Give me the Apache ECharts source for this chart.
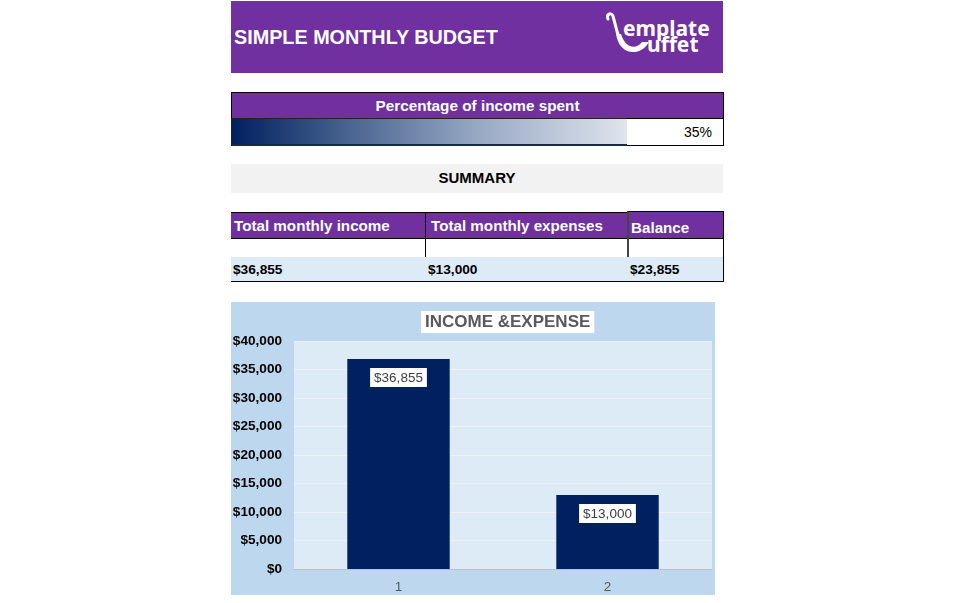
<!DOCTYPE html>
<html>
<head>
<meta charset="utf-8">
<script src="https://cdn.jsdelivr.net/npm/echarts@6/dist/echarts.min.js"></script>
<style>
  html, body { margin:0; padding:0; background:#ffffff; width:955px; height:603px; overflow:hidden; font-family:"Liberation Sans", Arial, sans-serif; }
  .abs { position:absolute; box-sizing:border-box; }
  .purple { background:#7030a0; color:#ffffff; font-weight:bold; }
</style>
</head>
<body>
<!-- Header -->
<div class="abs purple" style="left:231px;top:1px;width:492px;height:72px;"></div>
<div class="abs" style="left:234px;top:26px;color:#fff;font-weight:bold;font-size:19.8px;">SIMPLE MONTHLY BUDGET</div>
<svg class="abs" style="left:604px;top:10px;" width="115" height="50" viewBox="0 0 115 50">
  <path d="M4 9 C2 4 7 2 9 6 L14 25" stroke="#fff" stroke-width="3" fill="none" stroke-linecap="round"/>
  <path d="M12 23 C14 45 36 48 45 32 L38 32 C32 40 21 38 17 24 Z" fill="#fff"/>
  <text x="19" y="26" fill="#fff" font-family="Noto Sans, Liberation Sans, Arial" font-weight="bold" font-size="21">emplate</text>
  <text x="43" y="42" fill="#fff" font-family="Noto Sans, Liberation Sans, Arial" font-weight="bold" font-size="21">uffet</text>
</svg>

<!-- Percentage of income spent -->
<div class="abs purple" style="left:231px;top:92px;width:493px;height:27px;border:1px solid #000;border-bottom:none;font-size:15.3px;text-align:center;line-height:26px;">Percentage of income spent</div>
<div class="abs" style="left:231px;top:118px;width:397px;height:28px;border:1px solid #222;border-bottom:2px solid #1a2a4a;background:linear-gradient(to right,#002060 0%,#4a6591 30%,#97a8c3 62%,#dfe4ed 100%);"></div>
<div class="abs" style="left:627px;top:118px;width:97px;height:28px;border:1px solid #000;border-left:none;background:#fff;text-align:right;padding-right:11px;line-height:27px;font-size:14px;color:#000;">35%</div>

<!-- Summary band -->
<div class="abs" style="left:231px;top:164px;width:492px;height:29px;background:#f2f2f2;text-align:center;line-height:28px;font-size:15px;font-weight:bold;color:#000;">SUMMARY</div>

<!-- Summary table -->
<div class="abs purple" style="left:231px;top:212px;width:195px;height:27px;border-top:1px solid #000;font-size:15.2px;line-height:25px;padding-left:3px;">Total monthly income</div>
<div class="abs purple" style="left:425px;top:212px;width:203px;height:27px;border-top:1px solid #000;border-left:1px solid #000;font-size:15.2px;line-height:25px;padding-left:5px;">Total monthly expenses</div>
<div class="abs purple" style="left:627px;top:211px;width:97px;height:28px;border-top:1px solid #000;border-left:2px solid #444;border-right:1px solid #000;font-size:15.2px;line-height:31px;padding-left:2px;">Balance</div>
<div class="abs" style="left:231px;top:238px;width:493px;height:20px;background:#fff;border-top:1px solid #000;border-bottom:1px solid #000;border-right:1px solid #000;"></div>
<div class="abs" style="left:425px;top:238px;width:1px;height:44px;background:#000;"></div>
<div class="abs" style="left:627px;top:238px;width:2px;height:44px;background:#444;"></div>
<div class="abs" style="left:231px;top:257px;width:493px;height:25px;background:#ddebf7;border-bottom:1px solid #000;border-right:1px solid #000;"></div>
<div class="abs" id="v1" style="left:233px;top:262px;font-size:13.7px;font-weight:bold;color:#000;"></div>
<div class="abs" id="v2" style="left:428px;top:262px;font-size:13.7px;font-weight:bold;color:#000;"></div>
<div class="abs" id="v3" style="left:630px;top:262px;font-size:13.7px;font-weight:bold;color:#000;"></div>

<!-- Chart -->
<div id="chart" class="abs" style="left:231px;top:302px;width:484px;height:293px;"></div>

<script>
  const categories = ['1', '2'];
  const values = [36855, 13000];
  const balance = 23855;
  const yTicks = { min: 0, max: 40000, interval: 5000 };

  function money(v) {
    return '$' + String(v).replace(/\B(?=(\d{3})+(?!\d))/g, ',');
  }
  document.getElementById('v1').textContent = money(values[0]);
  document.getElementById('v2').textContent = money(values[1]);
  document.getElementById('v3').textContent = money(balance);

  const chart = echarts.init(document.getElementById('chart'), null, { renderer: 'canvas' });
  chart.setOption({
    backgroundColor: '#bdd7ee',
    animation: false,
    title: {
      text: 'INCOME &EXPENSE',
      left: 190,
      top: 9,
      backgroundColor: '#ffffff',
      padding: [3, 4, 2, 4],
      textStyle: { fontFamily: 'Liberation Sans, Arial', fontWeight: 'bold', fontSize: 17, color: '#595959' }
    },
    grid: { left: 63, top: 39, right: 3, bottom: 26, show: true, backgroundColor: '#ddebf7', borderWidth: 0, containLabel: false, outerBoundsMode: 'none' },
    xAxis: {
      type: 'category',
      data: categories,
      axisLine: { lineStyle: { color: '#bfbfbf', width: 1 } },
      axisTick: { show: false },
      axisLabel: { color: '#595959', fontSize: 13.5, margin: 11, fontFamily: 'Liberation Sans, Arial' }
    },
    yAxis: {
      type: 'value',
      min: yTicks.min, max: yTicks.max, interval: yTicks.interval,
      axisLine: { show: false },
      axisTick: { show: false },
      splitLine: { lineStyle: { color: '#ebf2fa', width: 1 } },
      axisLabel: { color: '#000', fontWeight: 'bold', fontSize: 13.6, margin: 12, fontFamily: 'Liberation Sans, Arial', formatter: money }
    },
    series: [{
      type: 'bar',
      data: values,
      barWidth: '49%',
      itemStyle: { color: '#002060' },
      label: {
        show: true,
        position: 'insideTop',
        distance: 9,
        formatter: p => money(p.value),
        backgroundColor: '#ffffff',
        color: '#404040',
        fontSize: 13.5,
        fontFamily: 'Liberation Sans, Arial',
        padding: [3, 4, 2, 4]
      }
    }]
  });
</script>
</body>
</html>
